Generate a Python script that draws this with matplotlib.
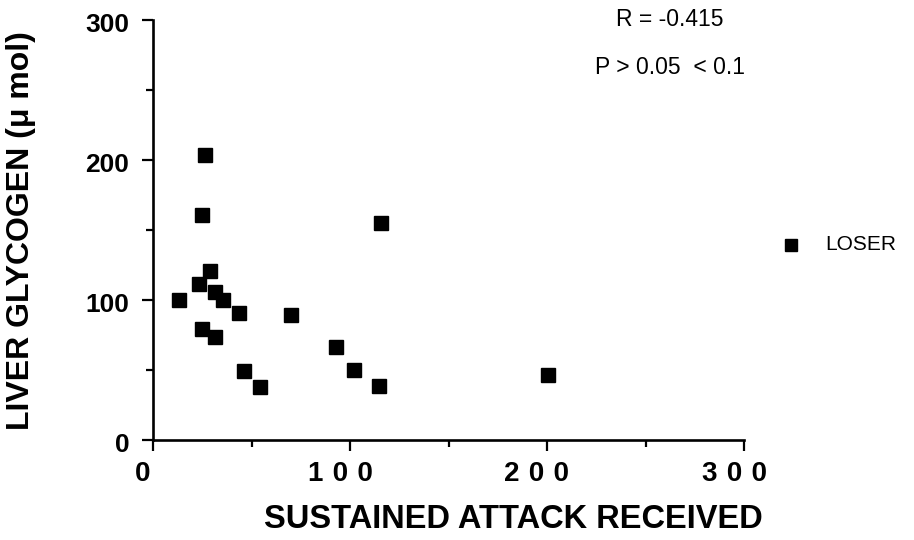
import matplotlib
matplotlib.use("Agg")
import matplotlib.pyplot as plt
from matplotlib.ticker import MultipleLocator
from matplotlib.transforms import ScaledTranslation

# Sustained attack received vs. liver glycogen for losers
attack = [26.6, 24.9, 115.9, 29.1, 23.5, 13.0, 31.5, 35.5, 43.7, 70.1,
          24.7, 31.6, 92.9, 46.2, 102.2, 54.2, 114.6, 200.5]
glycogen = [203.6, 160.5, 154.8, 120.7, 111.2, 100.0, 105.9, 100.2, 90.9, 89.0,
            79.3, 73.8, 66.7, 49.5, 50.0, 38.1, 38.6, 46.4]

gap = "\u2004"
x_ticks = [0, 100, 200, 300]
x_tick_labels = ["0", gap.join("100"), gap.join("200"), gap.join("300")]
y_ticks = [0, 100, 200, 300]
y_tick_labels = ["0", "100", "200", "300"]

plt.rcParams["font.family"] = ["Liberation Sans", "DejaVu Sans"]

W, H = 914, 540
fig = plt.figure(figsize=(W / 100, H / 100), dpi=100)
ax = fig.add_axes([153 / W, 1 - 440 / H, (744 - 153) / W, (440 - 20) / H])

ax.plot(attack, glycogen, linestyle="none", marker="s", markersize=9.4,
        color="black", markeredgecolor="black")

ax.set_xlim(0, 300)
ax.set_ylim(0, 300)
ax.set_xticks(x_ticks)
ax.set_xticklabels(x_tick_labels, fontsize=20, fontweight="bold")
ax.set_yticks(y_ticks)
ax.set_yticklabels(y_tick_labels, fontsize=19, fontweight="bold")
ax.xaxis.set_minor_locator(MultipleLocator(50))
ax.yaxis.set_minor_locator(MultipleLocator(50))
ax.tick_params(which="major", length=8, width=1.6, direction="out")
ax.tick_params(axis="x", which="major", pad=7)
ax.tick_params(axis="y", which="major", pad=9)
ax.tick_params(which="minor", length=5, width=1.6, direction="out")

# x tick labels sit slightly left of their ticks
shift_x = ScaledTranslation(-10 / 100, 0, fig.dpi_scale_trans)
for lbl in ax.get_xticklabels():
    lbl.set_transform(lbl.get_transform() + shift_x)
shift_y = ScaledTranslation(0, -3 / 100, fig.dpi_scale_trans)
for lbl in ax.get_yticklabels():
    lbl.set_transform(lbl.get_transform() + shift_y)

for side in ("top", "right"):
    ax.spines[side].set_visible(False)
for side in ("left", "bottom"):
    ax.spines[side].set_linewidth(1.9)

fig.text(513 / W, 1 - 520 / H, "SUSTAINED ATTACK RECEIVED", fontsize=23.5,
         fontweight="bold", ha="center", va="center")
fig.text(21 / W, 1 - 231 / H, "LIVER GLYCOGEN (\u03bc mol)", fontsize=23,
         fontweight="bold", ha="center", va="center", rotation=90)

fig.text(670 / W, 1 - 19 / H, "R = -0.415", fontsize=16.5, ha="center", va="center")
fig.text(670 / W, 1 - 68 / H, "P > 0.05  < 0.1", fontsize=16.5, ha="center", va="center")

# Legend entry placed to the right of the plotting area
fig.lines.append(plt.Line2D([791 / W], [1 - 245 / H], transform=fig.transFigure,
                            marker="s", markersize=8.6, color="black", linestyle="none"))
fig.text(825 / W, 1 - 245 / H, "LOSER", fontsize=15, ha="left", va="center")

fig.savefig("out.png", dpi=100, facecolor="white")
